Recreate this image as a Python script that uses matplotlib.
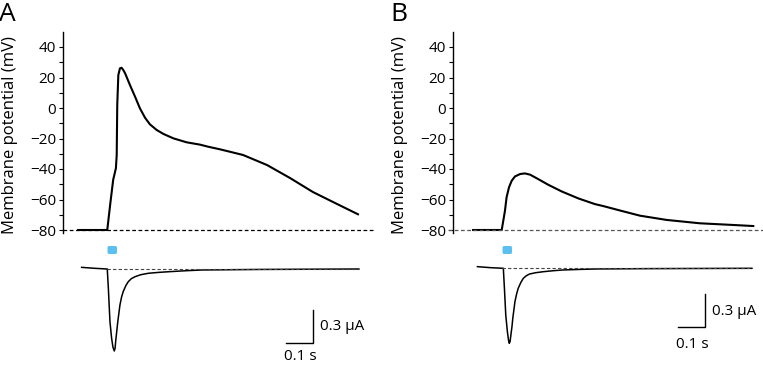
import numpy as np
import matplotlib.pyplot as plt
from matplotlib.patches import FancyBboxPatch

plt.rcParams['font.family'] = ['Open Sans', 'DejaVu Sans']

# --- datos (t en s desde el estimulo, V en mV, I en uA) ---
tA_v = [-0.107, 0.001, 0.012, 0.023, 0.033, 0.036, 0.038, 0.042, 0.048, 0.054, 0.060,
        0.067, 0.085, 0.104, 0.122, 0.141, 0.159, 0.184, 0.209, 0.246, 0.295, 0.344,
        0.375, 0.419, 0.504, 0.593, 0.678, 0.763, 0.837, 0.930]
vA = [-80, -80, -63, -47, -39.5, -30.8, 2.0, 21.6, 26.0, 26.4, 25.0,
      22.8, 15.1, 7.4, -0.2, -6.4, -10.7, -14.4, -17.0, -19.9, -22.5, -24.0,
      -25.4, -27.1, -30.8, -37.4, -45.9, -55.1, -61.6, -69.7]

tB_v = [-0.107, -0.001, 0.011, 0.017, 0.026, 0.036, 0.048, 0.067, 0.085, 0.104, 0.134,
        0.171, 0.221, 0.283, 0.344, 0.375, 0.437, 0.511, 0.610, 0.733, 0.856, 0.931]
vB = [-80, -80, -67.4, -58.6, -52.0, -47.7, -44.9, -43.3, -42.9, -43.7, -46.6,
      -50.3, -54.7, -59.3, -63.0, -64.3, -67.2, -70.6, -73.4, -75.6, -76.7, -77.4]

tA_i = [-0.094, -0.044, 0.001, 0.005, 0.011, 0.017, 0.022, 0.027, 0.030, 0.032, 0.036,
        0.040, 0.048, 0.054, 0.060, 0.070, 0.079, 0.090, 0.104, 0.125, 0.153, 0.190,
        0.227, 0.290, 0.351, 0.567, 0.933]
iA = [0.015, 0.006, 0.0, -0.173, -0.479, -0.627, -0.71, -0.745, -0.72, -0.661, -0.57,
      -0.479, -0.327, -0.255, -0.206, -0.150, -0.115, -0.088, -0.070, -0.052, -0.039, -0.031,
      -0.025, -0.016, -0.009, -0.004, 0.0]

tB_i = [-0.091, -0.044, 0.005, 0.009, 0.014, 0.020, 0.024, 0.027, 0.030, 0.033, 0.037,
        0.040, 0.048, 0.054, 0.060, 0.070, 0.079, 0.090, 0.102, 0.125, 0.153, 0.190,
        0.227, 0.290, 0.351, 0.548, 0.926]
iB = [0.015, 0.006, 0.0, -0.182, -0.425, -0.577, -0.65, -0.682, -0.665, -0.606, -0.53,
      -0.455, -0.303, -0.235, -0.182, -0.128, -0.091, -0.068, -0.052, -0.040, -0.031, -0.022,
      -0.015, -0.010, -0.006, -0.003, 0.0]

yticks = [40, 20, 0, -20, -40, -60, -80]

W, H = 763, 365
fig = plt.figure(figsize=(W / 100, H / 100), dpi=100)


def rect(x0, x1, ytop, ybot):
    return [x0 / W, 1 - ybot / H, (x1 - x0) / W, (ybot - ytop) / H]


def panel(x0, x1, t0, t1, tv, v, ti, i, base_px, dash_col, dash_start,
          bar_t, bar_top, txt_y, s_y, letter, letter_x, ylab_x):
    # potencial de membrana
    ax = fig.add_axes(rect(x0, x1, 31.75, 233.05))
    ax.plot(tv, v, color='k', lw=1.5)
    ax.plot([dash_start, t1], [-80, -80], color=dash_col, lw=0.9,
            dashes=(3, 2), clip_on=False)
    ax.set_xlim(t0, t1)
    ax.set_ylim(-82, 50)
    for s in ['top', 'right', 'bottom']:
        ax.spines[s].set_visible(False)
    ax.spines['left'].set_linewidth(1.0)
    ax.set_xticks([])
    ax.set_yticks(yticks)
    ax.set_yticks(np.arange(-80, 50, 10), minor=True)
    ax.tick_params(axis='y', length=3, width=0.8, labelsize=11, pad=2)
    ax.tick_params(axis='y', which='minor', length=3, width=0.8)
    fig.text(ylab_x / W, 1 - 135 / H, 'Membrane potential (mV)', rotation=90,
             ha='center', va='center', fontsize=12)
    fig.text(letter_x / W, 1 - 21 / H, letter, fontsize=19, ha='left', va='baseline')

    # corriente
    axi = fig.add_axes(rect(x0, x1, 240, 365))
    axi.plot(ti, i, color='k', lw=1.1)
    axi.plot([0, ti[-1]], [0, 0], color='#444444', lw=0.8, dashes=(3, 2))
    axi.set_xlim(t0, t1)
    axi.set_ylim(-(365 - base_px) / 110, (base_px - 240) / 110)
    axi.axis('off')
    # estimulo de luz
    axi.add_patch(FancyBboxPatch((0.002, (base_px - 254) / 110), 0.035, 8 / 110,
                                 boxstyle='round,pad=0.0,rounding_size=0.006',
                                 mutation_aspect=270 / 110, color='#5bbff0', lw=0))
    # barras de escala
    axi.plot([bar_t - 0.1, bar_t, bar_t], [bar_top - 0.3, bar_top - 0.3, bar_top],
             color='k', lw=1.0)
    axi.text(bar_t + 0.025, txt_y, '0.3 µA', fontsize=11, va='center', ha='left')
    axi.text(bar_t - 0.048, s_y, '0.1 s', fontsize=11, va='center', ha='center')


panel(63, 375, -0.163, 0.993, tA_v, vA, tA_i, iA, 269, 'k', -0.163,
      0.763, -0.373, -0.527, -0.80, 'A', -1, 10)
panel(453, 763, -0.1815, 0.967, tB_v, vB, tB_i, iB, 268.3, '#555555', -0.2,
      0.752, -0.234, -0.397, -0.697, 'B', 390, 400)

fig.savefig('out.png', dpi=100)
